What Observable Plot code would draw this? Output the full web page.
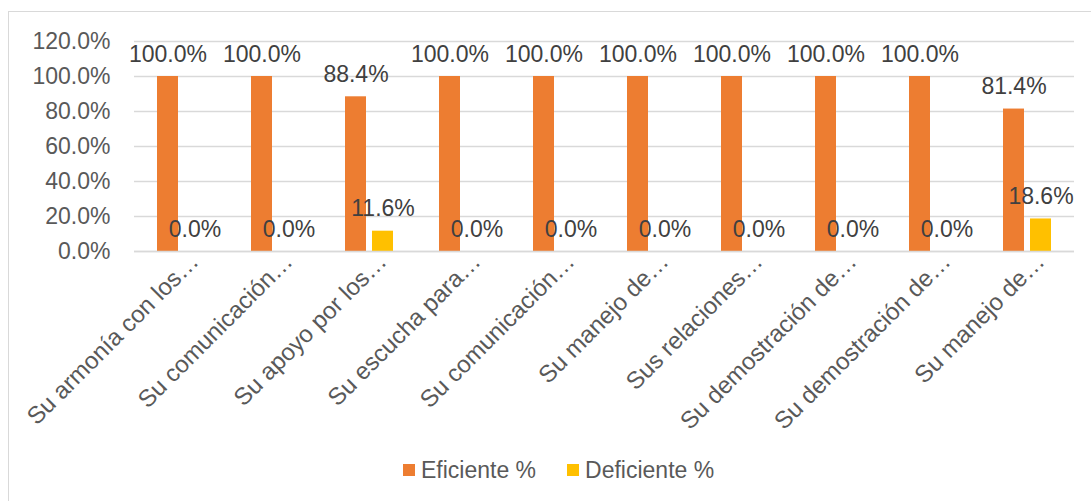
<!DOCTYPE html>
<html>
<head>
<meta charset="utf-8">
<script src="https://cdn.jsdelivr.net/npm/d3@7"></script>
<script src="https://cdn.jsdelivr.net/npm/@observablehq/plot@0.6"></script>
<style>
  html, body { margin: 0; padding: 0; background: #fff; }
  body { width: 1091px; height: 501px; position: relative; overflow: hidden; font-family: "Liberation Sans", Arial, sans-serif; }
  #frame { position: absolute; left: 8px; top: 11px; width: 1100px; height: 520px; border: 1px solid #d9d9d9; box-sizing: border-box; }
  #chart { position: absolute; left: 0; top: 0; }
  #legend { position: absolute; left: 403px; top: 456px; height: 28px; display: flex; align-items: center; font-size: 23px; color: #595959; }
  .item { display: flex; align-items: center; margin-right: 31px; }
  .sw { width: 12px; height: 12px; margin-right: 6px; }
</style>
</head>
<body>
<div id="frame"></div>
<div id="chart"></div>
<div id="legend"></div>
<script>
const categories = ["c1","c2","c3","c4","c5","c6","c7","c8","c9","c10"];
const categoryLabels = [
  "Su armonía con los…",
  "Su comunicación…",
  "Su apoyo por los…",
  "Su escucha para…",
  "Su comunicación…",
  "Su manejo de…",
  "Sus relaciones…",
  "Su demostración de…",
  "Su demostración de…",
  "Su manejo de…"
];
const seriesNames = ["Eficiente %", "Deficiente %"];
const seriesColors = ["#ED7D31", "#FFC000"];
const eficiente = [100, 100, 88.4, 100, 100, 100, 100, 100, 100, 81.4];
const deficiente = [0, 0, 11.6, 0, 0, 0, 0, 0, 0, 18.6];
const yTicks = [0, 20, 40, 60, 80, 100, 120];

const data = [];
categories.forEach((c, i) => {
  data.push({cat: c, series: seriesNames[0], value: eficiente[i]});
  data.push({cat: c, series: seriesNames[1], value: deficiente[i]});
});
const labelOf = Object.fromEntries(categories.map((c, i) => [c, categoryLabels[i]]));
const pct = v => v.toFixed(1) + "%";

const chart = Plot.plot({
  width: 1091,
  height: 445,
  marginLeft: 131,
  marginRight: 15,
  marginTop: 41,
  marginBottom: 194,
  style: {fontFamily: '"Liberation Sans", Arial, sans-serif', fontSize: "23px", color: "#595959", background: "transparent", overflow: "visible"},
  fx: {domain: categories, paddingInner: 0, paddingOuter: 0, label: null},
  x: {domain: seriesNames, paddingInner: 0.22, paddingOuter: 0.84, axis: null},
  y: {domain: [0, 120], ticks: yTicks, label: null},
  color: {domain: seriesNames, range: seriesColors},
  marks: [
    Plot.gridY(yTicks, {stroke: "#d9d9d9", strokeOpacity: 1, strokeWidth: 1.3, facetAnchor: null}),
    Plot.axisY(yTicks, {tickSize: 0, tickPadding: 24, tickFormat: pct, fontSize: 23, fill: "#595959", label: null}),
    Plot.barY(data, {fx: "cat", x: "series", y: "value", fill: "series", insetLeft: 0, insetRight: 0}),
    Plot.text(data, {fx: "cat", x: "series", y: "value", text: d => pct(d.value), lineAnchor: "bottom", dy: -15, fontSize: 23, fill: "#404040"}),
    Plot.ruleY([0], {stroke: "#d9d9d9", strokeWidth: 1.5}),
    Plot.axisFx({anchor: "bottom", tickSize: 0, tickRotate: -45, tickPadding: 6, dx: 13, dy: 0, tickFormat: d => labelOf[d], fontSize: 24, fill: "#595959", label: null})
  ]
});
document.getElementById("chart").appendChild(chart);

const legend = document.getElementById("legend");
seriesNames.forEach((s, i) => {
  const it = document.createElement("div");
  it.className = "item";
  const sw = document.createElement("span");
  sw.className = "sw";
  sw.style.background = seriesColors[i];
  const tx = document.createElement("span");
  tx.textContent = s;
  it.appendChild(sw); it.appendChild(tx);
  legend.appendChild(it);
});
</script>
</body>
</html>
